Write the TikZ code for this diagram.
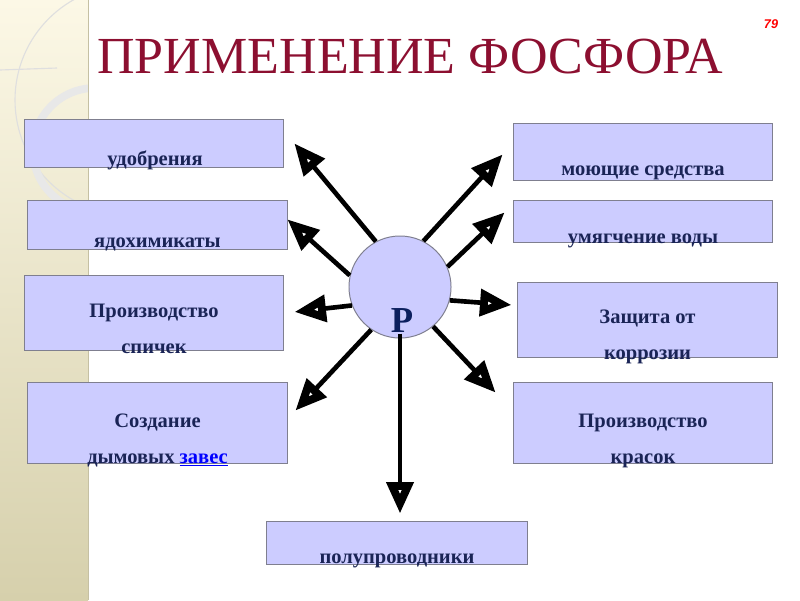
\documentclass[tikz,border=0pt]{standalone}
\usepackage{fontspec}
\setmainfont{Liberation Serif}
\newfontfamily\pagefont{Liberation Sans}
\usepackage{xcolor}
\usepackage{tikz}
\usetikzlibrary{arrows.meta,positioning,calc}
\definecolor{boxfill}{HTML}{CCCCFF}
\definecolor{boxline}{HTML}{7F7F8F}
\definecolor{navy}{HTML}{1A2456}
\definecolor{pnavy}{HTML}{0B1F5E}
\definecolor{wine}{HTML}{8C0F30}
\definecolor{bandtop}{HTML}{FCF8E6}
\definecolor{bandbot}{HTML}{D6D0AC}
\tikzset{
  appbox/.style={draw=boxline, fill=boxfill, line width=0.7pt, inner sep=0pt},
  apptext/.style={anchor=base, align=center, text=navy, inner sep=0pt, font=\fontsize{14.6}{25.5}\selectfont\bfseries},
  ray/.style={line width=3.3pt, -{Triangle[length=8mm, width=6.4mm, fill=white, line width=5.6pt]}}
}

\begin{document}
\begin{tikzpicture}[x=0.025cm, y=-0.025cm]
    \useasboundingbox (0,0) rectangle (800,600);
    % left band
    \shade[top color=bandtop, bottom color=bandbot] (0,0) rectangle (88,600);
    \begin{scope}
      \clip (0,0) rectangle (88,600);
      \draw[gray!25, line width=0.8pt] (130,100) circle[radius=115];
      \draw[gray!25, line width=0.8pt] (0,70) -- (57,68);
      \draw[gray!18, line width=5.5pt] (95,150) circle[radius=62];
    \end{scope}
    \draw[bandbot!80!gray, line width=0.5pt] (88,0) -- (88,600);

    % title and page number
    \node[anchor=base, text=wine, inner sep=0pt, font=\fontsize{37}{37}\selectfont] (title) at (410,73) {ПРИМЕНЕНИЕ ФОСФОРА};
    \node[text=red, inner sep=0pt, font=\pagefont\fontsize{9}{9}\selectfont\bfseries\itshape] (num) at (771,24) {79};

    % left boxes
    \node[appbox, minimum width=6.45cm, minimum height=1.2cm] (udo) at (154,143) {};
    \node[apptext] (udo-t) at (155,165) {удобрения};
    \node[appbox, minimum width=6.475cm, minimum height=1.225cm] (yad) at (157.5,224.5) {};
    \node[apptext] (yad-t) at (157.5,247) {ядохимикаты};
    \node[appbox, minimum width=6.45cm, minimum height=1.875cm] (spi) at (154,312.5) {};
    \node[apptext] (spi-t) at (154,353) {Производство\\спичек};
    \node[appbox, minimum width=6.475cm, minimum height=2.025cm] (dym) at (157.5,422.5) {};
    \node[apptext] (dym-t) at (157.5,463) {Создание\\дымовых {\color{blue}\underline{завес}}};

    % right boxes
    \node[appbox, minimum width=6.45cm, minimum height=1.425cm] (moy) at (643,151.5) {};
    \node[apptext] (moy-t) at (643,175) {моющие средства};
    \node[appbox, minimum width=6.45cm, minimum height=1.05cm] (umy) at (643,221) {};
    \node[apptext] (umy-t) at (643,243) {умягчение воды};
    \node[appbox, minimum width=6.475cm, minimum height=1.875cm] (zas) at (647.5,319.5) {};
    \node[apptext] (zas-t) at (647.5,359) {Защита от\\коррозии};
    \node[appbox, minimum width=6.45cm, minimum height=2.025cm] (kra) at (643,422.5) {};
    \node[apptext] (kra-t) at (643,463) {Производство\\красок};

    % bottom box
    \node[appbox, minimum width=6.5cm, minimum height=1.075cm] (pol) at (397,542.5) {};
    \node[apptext] (pol-t) at (397,563) {полупроводники};

    % phosphorus
    \node[circle, draw=boxline, fill=boxfill, line width=0.7pt, minimum size=2.55cm, inner sep=0pt] (p) at (400,287) {};
    \node[anchor=base, text=pnavy, inner sep=0pt, font=\fontsize{26}{26}\selectfont\bfseries] (elem) at (402,332) {Р};

    % arrow tips
    \coordinate (t1) at (294,143);
    \coordinate (t2) at (287,219);
    \coordinate (t3) at (294,312);
    \coordinate (t4) at (295,411);
    \coordinate (t5) at (400,514);
    \coordinate (t6) at (503,154);
    \coordinate (t7) at (505,212);
    \coordinate (t8) at (512,305);
    \coordinate (t9) at (496,393);
    \draw[ray] (p.118) -- (t1);
    \draw[ray] (p.167) -- (t2);
    \draw[ray] (p.201) -- (t3);
    \draw[ray] (p.236) -- (t4);
    \draw[ray] ([yshift=0.12cm]p.270) -- (t5);
    \draw[ray] (p.63) -- (t6);
    \draw[ray] (p.23) -- (t7);
    \draw[ray] (p.-15) -- (t8);
    \draw[ray] (p.-50) -- (t9);
  \end{tikzpicture}
\end{document}
